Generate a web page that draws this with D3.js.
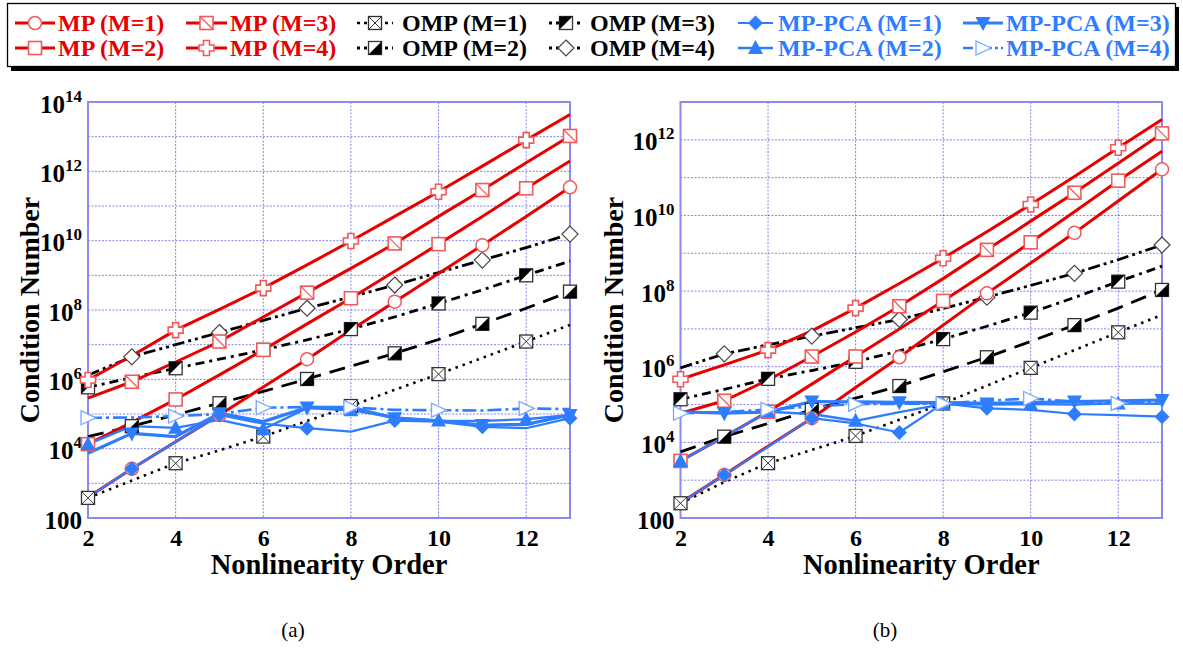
<!DOCTYPE html>
<html><head><meta charset="utf-8">
<script src="https://cdn.jsdelivr.net/npm/d3@7"></script>
<style>
body{margin:0;background:#fff;}
svg{display:block;}
text{font-family:"Liberation Serif","Times New Roman",serif;}
</style></head>
<body>
<svg id="chart" width="1183" height="648"></svg>
<script>
// ---------- DATA (log10 of condition number) ----------
const orders = [2,3,4,5,6,7,8,9,10,11,12,13];
const xTicks = [2,4,6,8,10,12];

// panel (a)
const a_MP1  = [2.6, 3.42, 4.2, 4.97, 5.78, 6.58, 7.42, 8.24, 9.05, 9.87, 10.7, 11.54];
const a_MP2  = [4.13, 4.76, 5.42, 6.13, 6.85, 7.6, 8.34, 9.12, 9.9, 10.7, 11.51, 12.3];
const a_MP3  = [5.46, 5.93, 6.5, 7.09, 7.8, 8.5, 9.2, 9.92, 10.7, 11.46, 12.25, 13.02];
const a_MP4  = [5.98, 6.68, 7.42, 8.02, 8.63, 9.3, 9.99, 10.7, 11.41, 12.15, 12.9, 13.64];
const a_OMP1 = [2.58, 3.08, 3.58, 3.95, 4.35, 4.8, 5.23, 5.7, 6.15, 6.62, 7.09, 7.57];
const a_OMP2 = [4.35, 4.65, 4.98, 5.31, 5.65, 6.01, 6.38, 6.75, 7.15, 7.6, 8.05, 8.53];
const a_OMP3 = [5.77, 6.05, 6.32, 6.58, 6.85, 7.14, 7.45, 7.8, 8.19, 8.58, 9.0, 9.41];
const a_OMP4 = [6.12, 6.65, 7.0, 7.35, 7.7, 8.05, 8.38, 8.72, 9.08, 9.44, 9.8, 10.19];
const a_PCA1 = [2.6, 3.42, 4.2, 4.97, 4.72, 4.59, 4.49, 4.81, 4.78, 4.63, 4.59, 4.88];
const a_PCA2 = [4.13, 4.65, 4.6, 4.83, 4.56, 5.17, 5.11, 4.9, 4.81, 4.8, 4.85, 4.97];
const a_PCA3 = [3.87, 4.44, 4.35, 5.02, 4.78, 5.19, 5.19, 4.88, 4.8, 4.68, 4.7, 4.97];
const a_PCA4 = [4.89, 4.9, 4.94, 5.0, 5.18, 5.2, 5.19, 5.12, 5.11, 5.1, 5.16, 5.14];

// panel (b)
const b_MP1  = [2.4, 3.14, 3.9, 4.64, 5.45, 6.25, 7.1, 7.94, 8.74, 9.54, 10.38, 11.22];
const b_MP2  = [3.51, 4.15, 4.81, 5.54, 6.27, 7.0, 7.74, 8.5, 9.29, 10.1, 10.92, 11.7];
const b_MP3  = [4.77, 5.1, 5.65, 6.27, 6.92, 7.6, 8.33, 9.09, 9.85, 10.6, 11.38, 12.17];
const b_MP4  = [5.67, 6.05, 6.44, 6.95, 7.55, 8.2, 8.87, 9.57, 10.29, 11.03, 11.79, 12.54];
const b_OMP1 = [2.39, 2.95, 3.45, 3.8, 4.17, 4.6, 5.03, 5.5, 5.97, 6.44, 6.91, 7.37];
const b_OMP2 = [3.75, 4.15, 4.5, 4.86, 5.17, 5.49, 5.87, 6.25, 6.67, 7.1, 7.55, 8.03];
const b_OMP3 = [5.14, 5.4, 5.68, 5.9, 6.13, 6.42, 6.73, 7.07, 7.43, 7.83, 8.25, 8.66];
const b_OMP4 = [5.97, 6.34, 6.58, 6.81, 7.03, 7.25, 7.54, 7.84, 8.15, 8.47, 8.83, 9.22];
const b_PCA1 = [2.4, 3.14, 3.88, 4.64, 4.5, 4.26, 5.03, 4.9, 4.86, 4.75, 4.72, 4.68];
const b_PCA2 = [3.51, 4.15, 4.81, 4.75, 4.57, 4.8, 5.01, 5.0, 5.01, 5.0, 5.03, 5.02];
const b_PCA3 = [4.81, 4.77, 4.8, 5.08, 5.07, 5.06, 5.05, 5.03, 5.05, 5.08, 5.1, 5.12];
const b_PCA4 = [4.77, 4.8, 4.87, 4.95, 5.01, 5.02, 5.03, 5.1, 5.16, 5.08, 5.03, 5.08];

// tick labels (exponents; 2 -> "100")
const a_yTickExp = [2,4,6,8,10,12,14];
const b_yTickExp = [2,4,6,8,10,12];
const seriesNames = ["MP (M=1)","MP (M=2)","MP (M=3)","MP (M=4)",
                     "OMP (M=1)","OMP (M=2)","OMP (M=3)","OMP (M=4)",
                     "MP-PCA (M=1)","MP-PCA (M=2)","MP-PCA (M=3)","MP-PCA (M=4)"];
const xTitle = "Nonlinearity Order";
const yTitle = "Condition Number";
const captions = ["(a)","(b)"];

// ---------- STYLES ----------
const RED = "#e60000", REDM = "#f05a5a", BLK = "#000", BLUE = "#2f7dff";
const styles = [
  {color:RED, w:3, dash:null, marker:"circle", parity:1},
  {color:RED, w:3, dash:null, marker:"square", parity:0},
  {color:RED, w:3, dash:null, marker:"squareDiag", parity:1},
  {color:RED, w:3, dash:null, marker:"plus", parity:0},
  {color:BLK, w:2.6, dash:"2.5,5", marker:"squareX", parity:0},
  {color:BLK, w:2.8, dash:"16,9", marker:"halfLR", parity:1},
  {color:BLK, w:2.8, dash:"9,5,3,5", marker:"halfUL", parity:0},
  {color:BLK, w:2.8, dash:"12,4,3,4,3,4", marker:"diamondOpen", parity:1},
  {color:BLUE, w:2.2, dash:null, marker:"diamondFilled", parity:1},
  {color:BLUE, w:2.4, dash:null, marker:"triUp", parity:0},
  {color:BLUE, w:3.2, dash:null, marker:"triDown", parity:1},
  {color:BLUE, w:2.6, dash:"14,4,3,4", marker:"triRightOpen", parity:0}
];

const svg = d3.select("#chart");

function drawMarker(g, type, x, y){
  const m = g.append("g").attr("transform", `translate(${x},${y})`);
  const h = 6.5;
  if(type==="circle"){
    m.append("circle").attr("r",6.5).attr("fill","#fff").attr("stroke",REDM).attr("stroke-width",1.5);
  } else if(type==="square"){
    m.append("rect").attr("x",-h).attr("y",-h).attr("width",2*h).attr("height",2*h).attr("fill","#fff").attr("stroke",REDM).attr("stroke-width",1.6);
  } else if(type==="squareDiag"){
    m.append("rect").attr("x",-h).attr("y",-h).attr("width",2*h).attr("height",2*h).attr("fill","#fff").attr("stroke",REDM).attr("stroke-width",1.6);
    m.append("line").attr("x1",-h).attr("y1",-h).attr("x2",h).attr("y2",h).attr("stroke",REDM).attr("stroke-width",1.2);
  } else if(type==="plus"){
    const w=3, k=7.5;
    const pts=[[-w,-k],[w,-k],[w,-w],[k,-w],[k,w],[w,w],[w,k],[-w,k],[-w,w],[-k,w],[-k,-w],[-w,-w]];
    m.append("polygon").attr("points",pts.map(p=>p.join(",")).join(" ")).attr("fill","#fff").attr("stroke",REDM).attr("stroke-width",1.6);
  } else if(type==="squareX"){
    m.append("rect").attr("x",-h).attr("y",-h).attr("width",2*h).attr("height",2*h).attr("fill","#fff").attr("stroke","#333").attr("stroke-width",1.3);
    m.append("path").attr("d",`M${-h},${-h}L${h},${h}M${-h},${h}L${h},${-h}`).attr("stroke","#333").attr("stroke-width",1);
  } else if(type==="halfLR" || type==="halfUL"){
    m.append("rect").attr("x",-h).attr("y",-h).attr("width",2*h).attr("height",2*h).attr("fill","#fff").attr("stroke","#333").attr("stroke-width",1.3);
    const d = type==="halfLR" ? `M${h},${-h}L${h},${h}L${-h},${h}Z` : `M${-h},${-h}L${h},${-h}L${-h},${h}Z`;
    m.append("path").attr("d",d).attr("fill","#000");
  } else if(type==="diamondOpen"){
    const k=8;
    m.append("path").attr("d",`M0,${-k}L${k},0L0,${k}L${-k},0Z`).attr("fill","#fff").attr("stroke","#444").attr("stroke-width",1.2);
  } else if(type==="diamondFilled"){
    const k=7.5;
    m.append("path").attr("d",`M0,${-k}L${k},0L0,${k}L${-k},0Z`).attr("fill",BLUE);
  } else if(type==="triUp"){
    m.append("path").attr("d","M0,-8L7.5,6L-7.5,6Z").attr("fill",BLUE);
  } else if(type==="triDown"){
    m.append("path").attr("d","M0,8L7.5,-6L-7.5,-6Z").attr("fill",BLUE);
  } else if(type==="triRightOpen"){
    m.append("path").attr("d","M8,0L-7,-7L-7,7Z").attr("fill","#fff").attr("stroke","#7aa8ff").attr("stroke-width",1.3);
  }
}

function expLabel(sel, e, fs, sfs){
  if(e===2){ sel.text("100"); return; }
  sel.append("tspan").text("10");
  sel.append("tspan").attr("font-size",sfs).attr("dy",-11).text(String(e));
}

function drawPanel(cfg){
  const {left,right,top,bottom,yMaxExp,series,yTickExp,caption,capX} = cfg;
  const x = d3.scaleLinear().domain([2,13]).range([left,right]);
  const y = d3.scaleLog().domain([1e2, Math.pow(10,yMaxExp)]).range([bottom,top]);
  const g = svg.append("g");
  // grid
  const gridC = "#5b5be6";
  const decades = d3.range(3, yMaxExp).map(e=>Math.pow(10,e));
  g.append("g").selectAll("line").data(decades).join("line")
    .attr("x1",left).attr("x2",right).attr("y1",d=>y(d)).attr("y2",d=>y(d))
    .attr("stroke",gridC).attr("stroke-width",1).attr("stroke-dasharray","2,1.5").attr("opacity",0.75);
  g.append("g").selectAll("line").data([4,6,8,10,12]).join("line")
    .attr("y1",top).attr("y2",bottom).attr("x1",d=>x(d)).attr("x2",d=>x(d))
    .attr("stroke",gridC).attr("stroke-width",1).attr("stroke-dasharray","2,1.5").attr("opacity",0.75);
  // frame
  g.append("rect").attr("x",left).attr("y",top).attr("width",right-left).attr("height",bottom-top)
    .attr("fill","none").attr("stroke","#8a8af0").attr("stroke-width",2);
  // axes labels via d3 axes (ticks hidden, labels restyled)
  const xAx = g.append("g").attr("transform",`translate(0,${bottom})`)
    .call(d3.axisBottom(x).tickValues(xTicks).tickSize(0).tickPadding(0).tickFormat(d3.format("d")));
  xAx.select(".domain").remove();
  xAx.selectAll("text").attr("dy",null).attr("y",28).attr("font-size",24).attr("font-weight","bold")
    .attr("font-family","Liberation Serif, serif").attr("fill","#000");
  const yAx = g.append("g").attr("transform",`translate(${left},0)`)
    .call(d3.axisLeft(y).tickValues(yTickExp.map(e=>Math.pow(10,e))).tickSize(0).tickPadding(6).tickFormat(""));
  yAx.select(".domain").remove();
  yAx.selectAll(".tick text").each(function(d){
    const t = d3.select(this).text(null).attr("dy",null).attr("y",10).attr("x",-6)
      .attr("font-size",25).attr("font-weight","bold").attr("font-family","Liberation Serif, serif").attr("fill","#000");
    expLabel(t, Math.round(Math.log10(d)), 25, 17);
  });
  // titles
  g.append("text").attr("x",(left+right)/2).attr("y",574).attr("text-anchor","middle")
    .attr("font-size",28.5).attr("font-weight","bold").text(xTitle);
  g.append("text").attr("transform",`translate(${cfg.yTitleX},${(top+bottom)/2}) rotate(-90)`)
    .attr("text-anchor","middle").attr("font-size",28).attr("font-weight","bold").text(yTitle);
  g.append("text").attr("x",capX).attr("y",637).attr("text-anchor","middle").attr("font-size",21).text(caption);

  // series
  const line = d3.line().x(d=>x(d[0])).y(d=>y(Math.pow(10,d[1])));
  const order = [4,5,6,7,0,1,2,3,8,9,10,11];
  order.forEach(i=>{
    const st = styles[i];
    const pts = orders.map((o,j)=>[o, series[i][j]]);
    g.append("path").datum(pts).attr("d",line).attr("fill","none")
      .attr("stroke",st.color).attr("stroke-width",st.w)
      .attr("stroke-dasharray",st.dash).attr("stroke-linejoin","round");
  });
  order.forEach(i=>{
    const st = styles[i];
    orders.forEach((o,j)=>{
      if(o%2===st.parity) drawMarker(g, st.marker, x(o), y(Math.pow(10,series[i][j])));
    });
  });
}

drawPanel({left:88,right:570,top:102,bottom:518,yMaxExp:14,yTickExp:a_yTickExp,
  series:[a_MP1,a_MP2,a_MP3,a_MP4,a_OMP1,a_OMP2,a_OMP3,a_OMP4,a_PCA1,a_PCA2,a_PCA3,a_PCA4],
  caption:captions[0],capX:293,yTitleX:39});
drawPanel({left:680.5,right:1162,top:102,bottom:518,yMaxExp:13,yTickExp:b_yTickExp,
  series:[b_MP1,b_MP2,b_MP3,b_MP4,b_OMP1,b_OMP2,b_OMP3,b_OMP4,b_PCA1,b_PCA2,b_PCA3,b_PCA4],
  caption:captions[1],capX:885,yTitleX:623});

// ---------- LEGEND ----------
const lg = svg.append("g");
lg.append("rect").attr("x",11).attr("y",7).attr("width",1168).attr("height",64).attr("fill","#000");
lg.append("rect").attr("x",7.5).attr("y",3.5).attr("width",1168).attr("height",63).attr("fill","#fff").attr("stroke","#000").attr("stroke-width",1.3);
const cols = [
  {x1:15, x2:55, tx:58},  {x1:186, x2:227, tx:230},
  {x1:357, x2:393, tx:402}, {x1:549, x2:583, tx:590},
  {x1:738, x2:773, tx:778}, {x1:963, x2:1003, tx:1006}
];
const rows = [23, 48];
const legendPos = [[0,0],[0,1],[1,0],[1,1],[2,0],[2,1],[3,0],[3,1],[4,0],[4,1],[5,0],[5,1]];
const textColors = [RED,RED,RED,RED,"#000","#000","#000","#000",BLUE,BLUE,BLUE,BLUE];
seriesNames.forEach((name,i)=>{
  const [c,r] = legendPos[i];
  const col = cols[c], yy = rows[r], st = styles[i];
  lg.append("line").attr("x1",col.x1).attr("x2",col.x2).attr("y1",yy).attr("y2",yy)
    .attr("stroke",st.color).attr("stroke-width",st.w).attr("stroke-dasharray",st.dash ? (i<8?"3,4":"10,3,3,3") : null);
  drawMarker(lg, st.marker, (col.x1+col.x2)/2, yy);
  lg.append("text").attr("x",col.tx).attr("y",yy+8).attr("font-size",24).attr("font-weight","bold")
    .attr("fill",textColors[i]).text(name);
});
</script>
</body></html>
